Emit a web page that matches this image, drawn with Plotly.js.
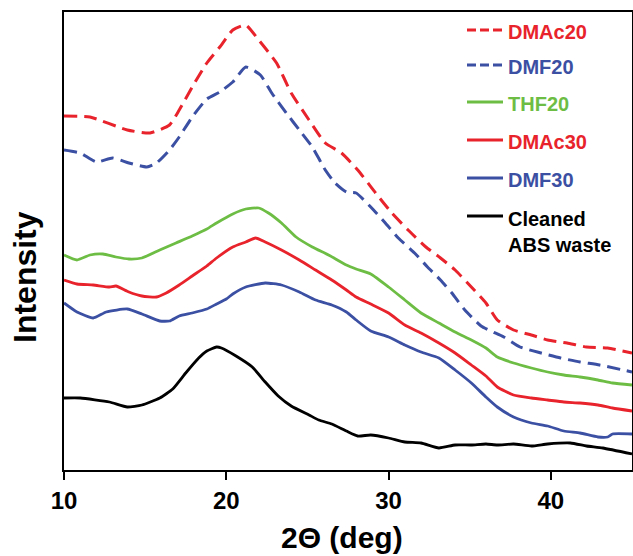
<!DOCTYPE html>
<html>
<head>
<meta charset="utf-8">
<script src="https://cdn.plot.ly/plotly-3.0.1.min.js"></script>
<style>html,body{margin:0;padding:0;background:#fff;}#chart{width:633px;height:556px;}</style>
</head>
<body>
<div id="chart"></div>
<script>
// 2θ (deg) values and intensity (arbitrary units, offset curves)
const seriesNames = ["DMAc20", "DMF20", "THF20", "DMAc30", "DMF30", "Cleaned<br>ABS waste"];

const xDMAc20 = [10.0, 11.6, 13.9, 15.3, 16.5, 17.1, 17.9, 18.8, 19.6, 20.4, 21.2, 22.0, 23.1, 24.0, 25.1, 26.1, 27.1, 28.1, 29.2, 30.2, 31.2, 32.3, 33.2, 34.1, 35.1, 36.0, 36.7, 37.7, 38.8, 39.8, 41.0, 42.2, 43.5, 45.0];
const yDMAc20 = [353, 352, 339, 336, 344, 359, 382, 406, 422, 439, 444, 429, 406, 376, 349, 326, 316, 299, 276, 256, 239, 222, 211, 199, 182, 166, 149, 139, 134, 129, 126, 122, 121, 116];

const xDMF20 = [10.0, 11.0, 12.0, 13.0, 14.0, 15.1, 15.7, 16.5, 17.1, 17.9, 18.8, 19.6, 20.4, 21.2, 22.1, 22.8, 23.7, 24.5, 25.3, 26.1, 26.7, 27.4, 28.0, 28.9, 29.8, 30.6, 31.6, 32.4, 33.2, 33.9, 34.7, 35.7, 36.3, 37.1, 38.1, 39.4, 40.6, 41.8, 43.0, 45.0];
const yDMF20 = [319, 316, 307, 311, 306, 302, 306, 319, 332, 352, 370, 377, 387, 402, 394, 376, 356, 339, 322, 299, 286, 277, 276, 262, 246, 231, 216, 202, 189, 176, 159, 143, 138, 132, 122, 116, 111, 107, 104, 97];

const xTHF20 = [10.0, 10.8, 11.6, 12.4, 13.2, 14.0, 14.8, 15.9, 16.9, 17.9, 18.8, 19.4, 20.4, 21.2, 22.0, 22.6, 23.4, 24.3, 25.3, 26.3, 27.4, 28.0, 28.9, 30.0, 31.0, 32.0, 33.1, 34.1, 35.1, 36.0, 36.7, 37.7, 38.8, 39.8, 40.8, 41.8, 42.9, 43.8, 45.0];
const yTHF20 = [214, 209, 214, 215, 212, 210, 211, 219, 226, 233, 240, 246, 255, 260, 261, 256, 246, 232, 222, 214, 204, 200, 195, 182, 169, 156, 146, 137, 129, 121, 112, 106, 101, 97, 94, 92, 89, 86, 84];

const xDMAc30 = [10.0, 10.8, 11.8, 12.8, 13.2, 14.0, 14.8, 15.7, 16.3, 17.1, 17.9, 18.8, 19.4, 20.4, 21.2, 21.8, 22.4, 23.4, 24.5, 25.5, 26.5, 27.4, 28.0, 28.9, 30.0, 31.0, 32.0, 33.1, 34.1, 35.1, 36.0, 36.7, 37.7, 38.8, 39.8, 40.8, 41.8, 42.9, 43.8, 45.0];
const yDMAc30 = [189, 185, 184, 182, 183, 177, 173, 172, 176, 184, 193, 203, 211, 222, 227, 231, 227, 219, 209, 199, 189, 179, 172, 165, 156, 144, 136, 126, 116, 104, 93, 82, 74, 71, 69, 67, 66, 64, 61, 58];

const xDMF30 = [10.0, 10.8, 11.8, 12.6, 13.9, 14.8, 15.9, 16.5, 17.1, 17.9, 18.8, 19.4, 20.0, 20.4, 21.2, 22.4, 23.4, 24.5, 25.5, 26.5, 27.4, 28.0, 28.9, 30.0, 31.0, 32.0, 33.1, 34.1, 35.1, 36.0, 36.7, 37.7, 38.8, 39.8, 40.8, 41.8, 42.9, 43.5, 43.8, 45.0];
const yDMF30 = [166, 157, 151, 157, 160, 155, 148, 148, 153, 156, 160, 165, 170, 175, 182, 186, 184, 177, 169, 164, 157, 149, 138, 132, 124, 117, 111, 99, 86, 72, 62, 52, 46, 43, 38, 36, 32, 32, 35, 35];

const xABS = [10.0, 11.0, 12.8, 13.9, 14.8, 15.9, 16.7, 17.5, 18.3, 18.8, 19.4, 19.7, 20.6, 21.6, 22.4, 23.2, 24.0, 25.1, 25.7, 26.5, 27.4, 28.1, 28.9, 30.0, 31.0, 32.0, 33.1, 34.1, 35.1, 36.0, 36.7, 37.7, 38.8, 39.8, 41.2, 42.2, 43.2, 45.0];
const yABS = [71, 71, 67, 62, 64, 71, 80, 96, 111, 118, 122, 121, 113, 102, 87, 73, 63, 54, 49, 45, 38, 33, 34, 31, 27, 26, 21, 24, 24, 25, 24, 25, 23, 25, 26, 23, 21, 15];

const xTickVals = [10, 20, 30, 40];
const xTickText = ["10", "20", "30", "40"];

const RED = "#e8232b", BLUE = "#3b4fa3", GREEN = "#6dbd45", BLACK = "#000000";
const FONT = "Liberation Sans, Arial, Helvetica, sans-serif";

const seriesX = [xDMAc20, xDMF20, xTHF20, xDMAc30, xDMF30, xABS];
const seriesY = [yDMAc20, yDMF20, yTHF20, yDMAc30, yDMF30, yABS];
const colors = [RED, BLUE, GREEN, RED, BLUE, BLACK];
const dashes = ["13px,7px", "13px,7px", "solid", "solid", "solid", "solid"];
const widths = [3, 3, 2.8, 2.8, 2.8, 2.8];

const traces = seriesX.map((xs, i) => ({
  type: "scatter", mode: "lines", x: xs, y: seriesY[i], name: seriesNames[i],
  line: {color: colors[i], width: widths[i], dash: dashes[i], shape: "spline", smoothing: 0.5},
  hoverinfo: "skip", showlegend: false
}));

// Plot-area geometry (pixels) used to place the custom legend
const L = 64, R = 1, T = 12, B = 86, W = 633, H = 556;
const pw = W - L - R, ph = H - T - B;
const px = p => (p - L) / pw;
const py = p => (H - B - p) / ph;

const legendRowsY = [32, 67, 104, 142, 180, 219];
const legendLineDash = ["9px,4px", "9px,4px", "solid", "solid", "solid", "solid"];
const shapes = [];
const annotations = [];
seriesNames.forEach((nm, i) => {
  const ly = (i === 5) ? 216 : legendRowsY[i] - 2;
  shapes.push({type: "line", xref: "paper", yref: "paper", x0: px(467), x1: px(503), y0: py(ly), y1: py(ly),
    line: {color: colors[i], width: 3, dash: legendLineDash[i]}});
  annotations.push({xref: "paper", yref: "paper", x: px(506), y: py(i === 5 ? 232 : legendRowsY[i]),
    xanchor: "left", yanchor: "middle", align: "left", showarrow: false, text: nm,
    font: {family: FONT, size: 20, color: colors[i], weight: "bold"}});
});
annotations.push({xref: "paper", yref: "paper", x: px(25), y: py(277), textangle: -90,
  xanchor: "center", yanchor: "middle", showarrow: false, text: "Intensity",
  font: {family: FONT, size: 32, color: "#000", weight: "bold"}});
annotations.push({xref: "paper", yref: "paper", x: px(342), y: py(537),
  xanchor: "center", yanchor: "middle", showarrow: false, text: "2Θ (deg)",
  font: {family: FONT, size: 30, color: "#000", weight: "bold"}});

const layout = {
  width: W, height: H,
  margin: {l: L, r: R, t: T, b: B, pad: 0},
  paper_bgcolor: "#fff", plot_bgcolor: "#fff",
  showlegend: false,
  font: {family: FONT, color: "#000"},
  xaxis: {range: [10, 45], tickvals: xTickVals, ticktext: xTickText, ticks: "outside", ticklen: 8, tickwidth: 2,
    tickcolor: "#000", showline: true, linecolor: "#000", linewidth: 2, mirror: true, showgrid: false,
    zeroline: false, tickfont: {family: FONT, size: 24, color: "#000", weight: "bold"}, fixedrange: true},
  yaxis: {range: [-1, 457], showticklabels: false, ticks: "", showline: true, linecolor: "#000",
    linewidth: 2, mirror: true, showgrid: false, zeroline: false, fixedrange: true},
  shapes: shapes,
  annotations: annotations
};

Plotly.newPlot("chart", traces, layout, {displayModeBar: false, staticPlot: true});
</script>
</body>
</html>
